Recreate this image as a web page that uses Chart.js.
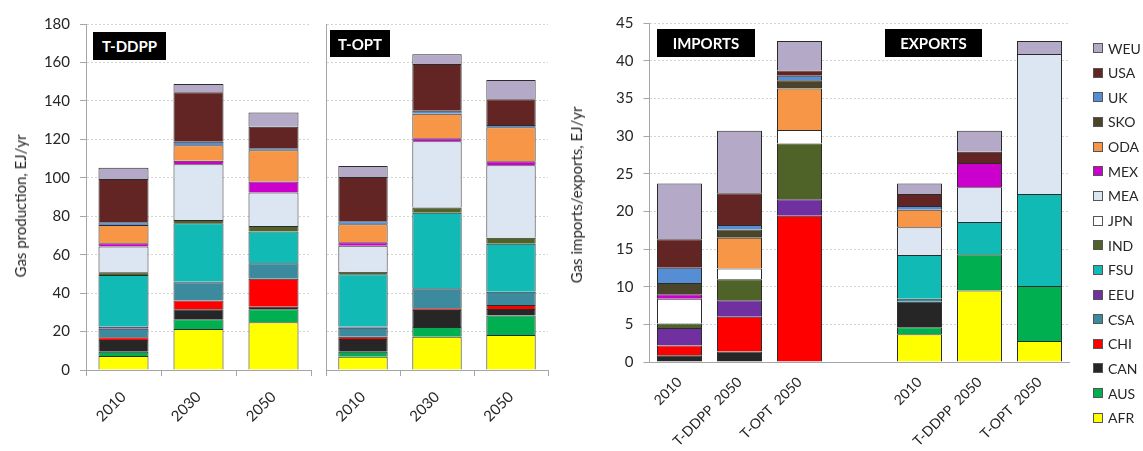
<!DOCTYPE html>
<html>
<head>
<meta charset="utf-8">
<script src="https://cdn.jsdelivr.net/npm/chart.js@4.4.1/dist/chart.umd.min.js"></script>
<style>
  html, body { margin: 0; padding: 0; background: #fff; }
  #wrap { position: relative; width: 1143px; height: 451px; overflow: hidden; font-family: Lato, "Open Sans", sans-serif; color: #262626; }
  canvas { position: absolute; top: 0; }
  .tag { position: absolute; background: #000; color: #fff; font-weight: bold; font-size: 15px;
         display: flex; align-items: center; justify-content: center; }
  .ytitle { position: absolute; white-space: nowrap; font-size: 15px; transform: translate(-50%, -50%) rotate(-90deg); }
  .leg-item { position: absolute; left: 1093px; height: 16px; display: flex; align-items: center; font-size: 14px; }
  .leg-box { width: 8px; height: 8px; border: 1px solid #555; margin-right: 5px; }
</style>
</head>
<body>
<div id="wrap">
  <canvas id="prodDdpp" width="318" height="451" style="left:0px"></canvas>
  <canvas id="prodOpt" width="242" height="451" style="left:318px"></canvas>
  <canvas id="trade" width="583" height="451" style="left:560px"></canvas>

  <div class="ytitle" style="left:20px; top:206px">Gas production, EJ/yr</div>
  <div class="ytitle" style="left:576px; top:195px">Gas imports/exports, EJ/yr</div>

  <div class="tag" style="left:93px; top:32px; width:73px; height:28px">T-DDPP</div>
  <div class="tag" style="left:330px; top:30px; width:60px; height:27px">T-OPT</div>
  <div class="tag" style="left:657px; top:29px; width:98px; height:28px">IMPORTS</div>
  <div class="tag" style="left:885px; top:29px; width:97px; height:28px">EXPORTS</div>

  <div id="legend"></div>
</div>

<script>
// Regions, stacked bottom to top
const regions = ['AFR','AUS','CAN','CHI','CSA','EEU','FSU','IND','JPN','MEA','MEX','ODA','SKO','UK','USA','WEU'];
const regionColors = ['#FFFF00','#00B050','#262626','#FF0000','#3B8A9E','#7030A0','#12BAB5','#4F6228',
                      '#FFFFFF','#DCE6F2','#CC00CC','#F79646','#4A452A','#558ED5','#632523','#B5A9C8'];

// Gas production, EJ/yr (one array per bar, in region order)
const years = ['2010', '2030', '2050'];
const ddpp2010 = [7.3, 2.2, 6.1, 1.4, 4.5, 1.0, 26.9, 1.4, 0, 13.5, 1.6, 9.5, 0, 1.4, 22.6, 5.8];
const ddpp2030 = [21.3, 5.1, 5.2, 4.5, 9.5, 0.3, 30.4, 1.7, 0, 29.0, 1.9, 8.0, 0, 1.9, 25.7, 4.3];
const ddpp2050 = [24.8, 6.8, 1.3, 14.6, 8.0, 0, 16.5, 2.9, 0, 17.4, 5.7, 16.3, 0, 1.0, 11.3, 7.3];
const opt2010  = [6.9, 2.6, 6.6, 1.2, 4.7, 0.5, 27.3, 1.3, 0, 13.6, 1.7, 9.4, 0, 1.6, 23.0, 5.7];
const opt2030  = [17.3, 5.1, 8.8, 0.9, 10.4, 0, 39.3, 2.8, 0, 34.4, 1.5, 12.8, 0, 1.6, 24.3, 5.0];
const opt2050  = [18.2, 10.1, 3.4, 2.1, 6.9, 0, 25.0, 3.1, 0, 37.7, 2.1, 17.7, 0, 1.2, 13.3, 10.1];

// Gas imports and exports, EJ/yr
const tradeLabels = ['2010', 'T-DDPP  2050', 'T-OPT  2050', '', '2010', 'T-DDPP  2050', 'T-OPT  2050'];
const imp2010     = [0, 0, 0.9, 1.3, 0, 2.3, 0, 0.6, 3.3, 0, 0.6, 0, 1.5, 2.0, 3.8, 7.4];
const impDdpp2050 = [0, 0, 1.4, 4.6, 0, 2.2, 0, 2.8, 1.4, 0, 0, 4.1, 1.1, 0.6, 4.2, 8.3];
const impOpt2050  = [0, 0, 0, 19.4, 0, 2.2, 0, 7.4, 1.8, 0, 0, 5.5, 1.1, 0.6, 0.7, 3.9];
const exp2010     = [3.7, 0.9, 3.4, 0, 0.4, 0, 5.8, 0, 0, 3.7, 0, 2.3, 0, 0.5, 1.6, 1.4];
const expDdpp2050 = [9.5, 4.8, 0, 0, 0, 0, 4.3, 0, 0, 4.6, 3.2, 0, 0, 0, 1.5, 2.8];
const expOpt2050  = [2.8, 7.3, 0, 0, 0, 0, 12.2, 0, 0, 18.6, 0, 0, 0, 0, 0, 1.7];

const FONT = 'Lato, "Open Sans", sans-serif';
const TEXT = '#262626';
const AXIS = '#a6a6a6';
const GRID = '#d4d4d4';

function stackSets(columns, barPct) {
  return regions.map((name, i) => ({
    label: name,
    data: columns.map(col => col ? col[i] : null),
    backgroundColor: regionColors[i],
    borderColor: '#2b2b2b',
    borderWidth: 1,
    barPercentage: barPct,
    categoryPercentage: 1
  }));
}

function barChart(id, labels, datasets, o) {
  return new Chart(document.getElementById(id), {
    type: 'bar',
    data: { labels, datasets },
    options: {
      responsive: false,
      animation: false,
      events: [],
      layout: { padding: o.padding },
      plugins: { legend: { display: false }, tooltip: { enabled: false } },
      scales: {
        x: {
          stacked: true,
          grid: { display: true, drawOnChartArea: false, drawTicks: true, tickLength: 6,
                  tickColor: o.xTicks ? AXIS : 'rgba(0,0,0,0)' },
          border: { color: AXIS, width: 1 },
          ticks: { color: TEXT, font: { family: FONT, size: o.xFont }, maxRotation: 45, minRotation: 45,
                   padding: o.xPad, autoSkip: false },
          afterFit: s => { s.height = o.xHeight; }
        },
        y: {
          stacked: true,
          min: 0, max: o.yMax,
          grid: { color: GRID, drawTicks: o.yLabels, tickLength: 6, tickColor: AXIS },
          border: { color: AXIS, width: 1, dash: [2, 2] },
          ticks: { display: o.yLabels, stepSize: o.yStep, color: TEXT, font: { family: FONT, size: 15 }, padding: 10 },
          afterFit: s => { s.width = o.yWidth; }
        }
      }
    }
  });
}

barChart('prodDdpp', years, stackSets([ddpp2010, ddpp2030, ddpp2050], 0.667), {
  padding: { top: 24, right: 7, left: 0, bottom: 0 },
  xHeight: 81, yWidth: 86, yMax: 180, yStep: 20, yLabels: true, xTicks: true, xFont: 15, xPad: 12
});

barChart('prodOpt', years, stackSets([opt2010, opt2030, opt2050], 0.667), {
  padding: { top: 24, right: 12, left: 0, bottom: 0 },
  xHeight: 81, yWidth: 8, yMax: 180, yStep: 20, yLabels: false, xTicks: true, xFont: 15, xPad: 12
});

barChart('trade', tradeLabels,
  stackSets([imp2010, impDdpp2050, impOpt2050, null, exp2010, expDdpp2050, expOpt2050], 0.75), {
  padding: { top: 23, right: 73.5, left: 0, bottom: 0 },
  xHeight: 89, yWidth: 89.5, yMax: 45, yStep: 5, yLabels: true, xTicks: false, xFont: 14, xPad: 6
});

// Legend, top entry is the last stacked region
const legend = document.getElementById('legend');
regions.slice().reverse().forEach((name, k) => {
  const idx = regions.length - 1 - k;
  const item = document.createElement('div');
  item.className = 'leg-item';
  item.style.top = (40 + k * 24.65) + 'px';
  const box = document.createElement('span');
  box.className = 'leg-box';
  box.style.background = regionColors[idx];
  const txt = document.createElement('span');
  txt.textContent = name;
  item.appendChild(box);
  item.appendChild(txt);
  legend.appendChild(item);
});
</script>
</body>
</html>
